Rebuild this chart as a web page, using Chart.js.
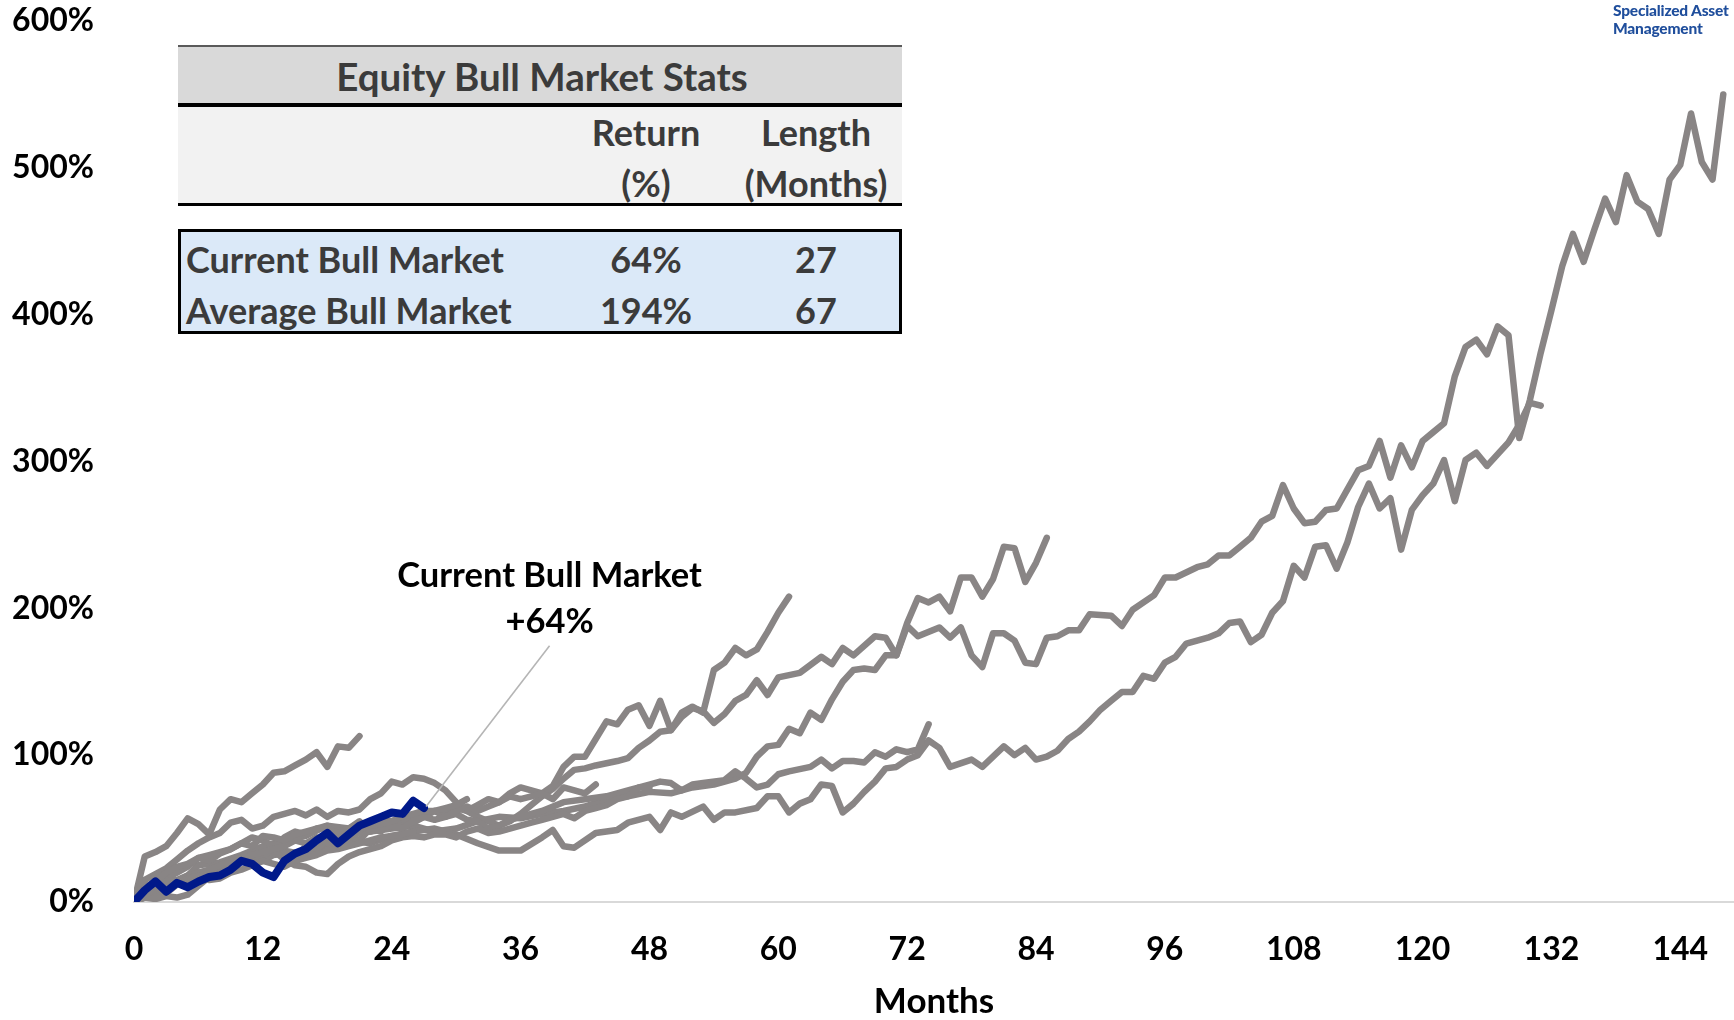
<!DOCTYPE html>
<html>
<head>
<meta charset="utf-8">
<script src="https://cdn.jsdelivr.net/npm/chart.js@4.4.0/dist/chart.umd.min.js"></script>
<style>
  html, body { margin: 0; padding: 0; background: #fff; }
  #wrap { position: relative; width: 1734px; height: 1020px; overflow: hidden; font-family: Lato, "Open Sans", sans-serif; }
  #chart { position: absolute; left: 0; top: 0; }
  .abs { position: absolute; }
  .t { position: absolute; transform: translate(-50%, -50%); white-space: nowrap; font-weight: 700; font-size: 36px; color: #3b3b3b; }
  .tl { position: absolute; transform: translate(0, -50%); white-space: nowrap; font-weight: 700; font-size: 36px; color: #3b3b3b; }
  #hdr { left: 178px; top: 45px; width: 724px; height: 56px; background: #d9d9d9; border-top: 2px solid #5a5a5a; border-bottom: 4px solid #000; }
  #sub { left: 178px; top: 107px; width: 724px; height: 96px; background: #f2f2f2; border-bottom: 3px solid #000; }
  #box { left: 178px; top: 229px; width: 724px; height: 105px; background: #dbe9f8; border: 3px solid #000; box-sizing: border-box; }
  .note { position: absolute; transform: translate(-50%, -50%); white-space: nowrap; font-weight: 700; font-size: 34.5px; color: #000; }
  #logo { position: absolute; left: 1613px; top: 1px; font-weight: 900; font-size: 15.5px; line-height: 18px; color: #1f4e9c; letter-spacing: -0.2px; }
</style>
</head>
<body>
<div id="wrap">
  <canvas id="chart" width="1734" height="1020"></canvas>

  <div id="hdr" class="abs"></div>
  <div id="sub" class="abs"></div>
  <div id="box" class="abs"></div>
  <div class="t" style="left:542px; top:76px; font-size:38.5px;">Equity Bull Market Stats</div>
  <div class="t" style="left:646px; top:132px;">Return</div>
  <div class="t" style="left:646px; top:183px;">(%)</div>
  <div class="t" style="left:816px; top:132px;">Length</div>
  <div class="t" style="left:816px; top:183px;">(Months)</div>
  <div class="tl" style="left:186px; top:259px;">Current Bull Market</div>
  <div class="t" style="left:646px; top:259px;">64%</div>
  <div class="t" style="left:816px; top:259px;">27</div>
  <div class="tl" style="left:186px; top:310px;">Average Bull Market</div>
  <div class="t" style="left:646px; top:310px;">194%</div>
  <div class="t" style="left:816px; top:310px;">67</div>

  <div id="note1" class="note">Current Bull Market</div>
  <div id="note2" class="note">+64%</div>

  <div id="logo">Specialized Asset<br>Management</div>
</div>

<script>
// ---- data: [month, cumulative return %] ----
const current = [[0,0],[1,8],[2,14],[3,7],[4,13],[5,10],[6,14],[7,17],[8,18],[9,22],[10,28],[11,26],[12,20],[13,17],[14,28],[15,33],[16,36],[17,42],[18,47],[19,40],[20,46],[21,52],[22,55],[23,58],[24,61],[25,60],[26,69],[27,64]];

const bull2020 = [[0,0],[1,31],[2,34],[3,38],[4,47],[5,57],[6,53],[7,46],[8,63],[9,70],[10,68],[11,74],[12,80],[13,88],[14,89],[15,93],[16,97],[17,102],[18,92],[19,106],[20,105],[21,113]];

const bull1966 = [[0,0],[1,5],[2,8],[3,12],[4,12],[5,16],[6,18],[7,15],[8,16],[9,20],[10,22],[11,25],[12,28],[13,26],[14,24],[15,28],[16,30],[17,32],[18,35],[19,36],[20,38],[21,40],[22,42],[23,44],[24,45],[25,46],[26,48]];

const bull1970 = [[0,0],[1,10],[2,14],[3,20],[4,24],[5,26],[6,30],[7,32],[8,34],[9,36],[10,40],[11,38],[12,45],[13,44],[14,42],[15,46],[16,48],[17,50],[18,50],[19,47],[20,46],[21,49],[22,52],[23,53],[24,55],[25,58],[26,60],[27,62],[28,62],[29,64],[30,66],[31,70]];

const bull1962 = [[0,0],[1,8],[2,10],[3,14],[4,15],[5,18],[6,20],[7,22],[8,25],[9,28],[10,30],[11,32],[12,34],[13,36],[14,38],[15,42],[16,40],[17,44],[18,40],[19,44],[20,45],[21,47],[22,48],[23,50],[24,52],[25,50],[26,55],[27,58],[28,56],[29,58],[30,62],[31,65],[32,62],[33,65],[34,68],[35,72],[36,70],[37,72],[38,74],[39,70],[40,78],[41,76],[42,74],[43,80]];

const bull1957 = [[0,0],[1,3],[2,2],[3,4],[4,3],[5,5],[6,11],[7,17],[8,20],[9,23],[10,28],[11,31],[12,32],[13,35],[14,29],[15,25],[16,24],[17,20],[18,19],[19,26],[20,31],[21,34],[22,36],[23,38],[24,42],[25,44],[26,45],[27,44],[28,46],[29,46],[30,44],[31,48],[32,50],[33,47],[34,48],[35,50],[36,52],[37,54],[38,56],[39,58],[40,60],[41,57],[42,62],[43,64],[44,66],[45,70],[46,72],[47,78],[48,78]];

const bull1982 = [[0,0],[1,6],[2,10],[3,16],[4,20],[5,24],[6,30],[7,28],[8,33],[9,36],[10,40],[11,44],[12,42],[13,38],[14,44],[15,48],[16,46],[17,50],[18,52],[19,48],[20,50],[21,54],[22,52],[23,56],[24,55],[25,57],[26,54],[27,58],[28,62],[29,60],[30,64],[31,62],[32,66],[33,70],[34,68],[35,74],[36,78],[37,76],[38,74],[39,79],[40,92],[41,99],[42,99],[43,111],[44,123],[45,121],[46,131],[47,134],[48,120],[49,137],[50,117],[51,129],[52,133],[53,129],[54,158],[55,163],[56,173],[57,168],[58,172],[59,184],[60,197],[61,208]];

const bull1974 = [[0,0],[1,3],[2,5],[3,9],[4,12],[5,16],[6,20],[7,18],[8,24],[9,22],[10,30],[11,26],[12,28],[13,32],[14,33],[15,30],[16,38],[17,36],[18,42],[19,40],[20,45],[21,42],[22,50],[23,48],[24,55],[25,52],[26,58],[27,60],[28,62],[29,58],[30,60],[31,56],[32,55],[33,50],[34,52],[35,56],[36,58],[38,62],[40,68],[42,70],[44,72],[46,76],[48,80],[49,82],[50,81],[51,76],[52,80],[53,81],[55,83],[56,89],[57,84],[58,78],[59,80],[60,87],[61,89],[63,92],[64,97],[65,91],[66,96],[67,96],[68,95],[69,102],[70,99],[71,104],[72,102],[73,104],[74,121]];

const bull1949 = [[0,0],[1,15],[3,23],[4,29],[5,35],[6,40],[7,44],[8,47],[9,54],[10,56],[11,50],[12,52],[13,58],[15,62],[16,59],[17,63],[18,58],[19,62],[20,61],[21,63],[22,70],[23,74],[24,82],[25,80],[26,85],[27,84],[28,81],[29,76],[30,68],[31,62],[32,58],[33,55],[34,52],[35,55],[36,60],[37,66],[38,72],[39,77],[40,84],[41,90],[42,91],[43,93],[45,96],[46,98],[47,105],[48,110],[49,116],[50,117],[51,126],[52,132],[53,130],[54,122],[55,128],[56,137],[57,141],[58,151],[59,141],[60,153],[62,156],[64,167],[65,162],[66,173],[67,168],[69,181],[70,180],[71,168],[72,190],[73,207],[74,204],[75,208],[76,198],[77,221],[78,221],[79,208],[80,220],[81,242],[82,241],[83,218],[84,231],[85,248]];

const bull2009 = [[0,0],[1,4],[2,8],[3,6],[4,12],[5,15],[6,18],[8,22],[10,28],[12,30],[14,35],[16,32],[18,38],[20,42],[22,40],[24,45],[26,48],[28,50],[30,46],[32,40],[34,35],[36,35],[38,44],[39,49],[40,38],[41,37],[43,47],[45,49],[46,54],[48,58],[49,49],[50,61],[51,58],[53,65],[54,56],[55,61],[56,61],[58,64],[59,72],[60,72],[61,61],[62,67],[63,70],[64,80],[65,79],[66,61],[67,67],[68,75],[69,82],[70,91],[71,92],[72,97],[73,100],[74,110],[75,105],[76,92],[78,97],[79,92],[80,99],[81,106],[82,100],[83,105],[84,97],[85,99],[86,103],[87,111],[88,116],[89,123],[90,131],[91,137],[92,143],[93,143],[94,154],[95,152],[96,163],[97,167],[98,176],[100,180],[101,183],[102,190],[103,191],[104,177],[105,182],[106,197],[107,205],[108,229],[109,221],[110,242],[111,243],[112,227],[113,245],[114,269],[115,285],[116,268],[117,275],[118,240],[119,267],[120,277],[121,285],[122,301],[123,273],[124,301],[125,306],[126,297],[127,305],[128,313],[129,325],[130,340],[131,338]];

const bull1987 = [[0,0],[1,5],[2,12],[3,15],[4,14],[5,18],[6,25],[8,27],[10,32],[12,38],[14,42],[16,45],[18,52],[20,50],[21,55],[22,48],[24,50],[26,52],[28,48],[30,50],[32,55],[34,58],[36,57],[38,60],[40,62],[42,65],[44,70],[46,72],[48,75],[50,74],[52,78],[54,80],[56,84],[57,88],[58,99],[59,106],[60,107],[61,118],[62,115],[63,129],[64,124],[65,138],[66,150],[67,158],[68,159],[69,158],[70,168],[71,168],[72,188],[73,181],[75,187],[76,180],[77,187],[78,168],[79,160],[80,183],[81,183],[82,178],[83,163],[84,162],[85,180],[86,181],[87,185],[88,185],[89,196],[91,195],[92,188],[93,199],[95,209],[96,221],[97,221],[99,228],[100,230],[101,236],[102,236],[103,242],[104,248],[105,259],[106,263],[107,284],[108,268],[109,258],[110,259],[111,267],[112,268],[113,281],[114,294],[115,297],[116,314],[117,289],[118,311],[119,296],[120,314],[121,320],[122,326],[123,358],[124,378],[125,383],[126,373],[127,392],[128,386],[129,316],[130,342],[131,374],[132,403],[133,433],[134,455],[135,436],[136,458],[137,479],[138,463],[139,495],[140,477],[141,472],[142,455],[143,492],[144,502],[145,537],[146,504],[147,492],[148,550]];

const pastMarkets = [bull2020, bull1966, bull1970, bull1962, bull1957, bull1982, bull1974, bull1949, bull2009, bull1987];

const yTicks = [0, 100, 200, 300, 400, 500, 600];
const xTicks = [0, 12, 24, 36, 48, 60, 72, 84, 96, 108, 120, 132, 144];

// label + leader line anchor (month, %)
const noteAt = [38.7, 174.5];
const noteTip = [27.2, 65];

const GRAY = '#898585';
const NAVY = '#00198a';
const FONT = 'Lato, "Open Sans", sans-serif';

function toXY(arr) {
    return arr.map(p => ({ x: p[0], y: p[1] }));
}

const datasets = [{
    label: 'Current',
    data: toXY(current),
    borderColor: NAVY,
    borderWidth: 8
}];
pastMarkets.forEach((m, i) => {
    datasets.push({
        label: 'past' + i,
        data: toXY(m),
        borderColor: GRAY,
        borderWidth: 6.5
    });
});

// leader line from the note down to the end of the current line
const leaderLine = {
    id: 'leaderLine',
    afterDatasetsDraw(chart) {
        const { ctx, scales: { x, y } } = chart;
        ctx.save();
        ctx.strokeStyle = '#b5b5b5';
        ctx.lineWidth = 1.6;
        ctx.beginPath();
        ctx.moveTo(x.getPixelForValue(noteAt[0]), y.getPixelForValue(noteAt[1]));
        ctx.lineTo(x.getPixelForValue(noteTip[0]), y.getPixelForValue(noteTip[1]));
        ctx.stroke();
        ctx.restore();
    }
};

const tickFont = { family: FONT, weight: 'bold', size: 32 };

const chart = new Chart(document.getElementById('chart').getContext('2d'), {
    type: 'line',
    data: { datasets: datasets },
    options: {
        responsive: false,
        animation: false,
        devicePixelRatio: 1,
        layout: { padding: { top: 21, right: 0, bottom: 0, left: 0 } },
        plugins: { legend: { display: false }, tooltip: { enabled: false } },
        elements: {
            point: { radius: 0 },
            line: { tension: 0, borderJoinStyle: 'round', borderCapStyle: 'round', fill: false }
        },
        scales: {
            x: {
                type: 'linear',
                min: 0,
                max: 149,
                // tickLength is used only as the gap between axis and labels
                grid: { display: false, drawTicks: true, tickLength: 28 },
                border: { display: true, color: '#d9d9d9', width: 2 },
                afterBuildTicks: s => { s.ticks = xTicks.map(v => ({ value: v })); },
                ticks: { autoSkip: false, maxRotation: 0, padding: 0, color: '#000', font: tickFont },
                title: { display: true, text: 'Months', color: '#000', font: { family: FONT, weight: 'bold', size: 35 }, padding: { top: 0, bottom: -3 } },
                afterFit: s => { s.height = 118; }
            },
            y: {
                min: 0,
                max: 600,
                grid: { display: false, drawTicks: true, tickLength: 40 },
                border: { display: false },
                afterBuildTicks: s => { s.ticks = yTicks.map(v => ({ value: v })); },
                ticks: { padding: 0, color: '#000', font: tickFont, callback: v => v + '%' },
                afterFit: s => { s.width = 134; }
            }
        }
    },
    plugins: [leaderLine]
});

// place the note text over the chart using the chart's own scales
const sx = chart.scales.x, sy = chart.scales.y;
const n1 = document.getElementById('note1');
const n2 = document.getElementById('note2');
n1.style.left = sx.getPixelForValue(noteAt[0]) + 'px';
n1.style.top = (sy.getPixelForValue(noteAt[1]) - 73) + 'px';
n2.style.left = sx.getPixelForValue(noteAt[0]) + 'px';
n2.style.top = (sy.getPixelForValue(noteAt[1]) - 27) + 'px';
</script>
</body>
</html>
